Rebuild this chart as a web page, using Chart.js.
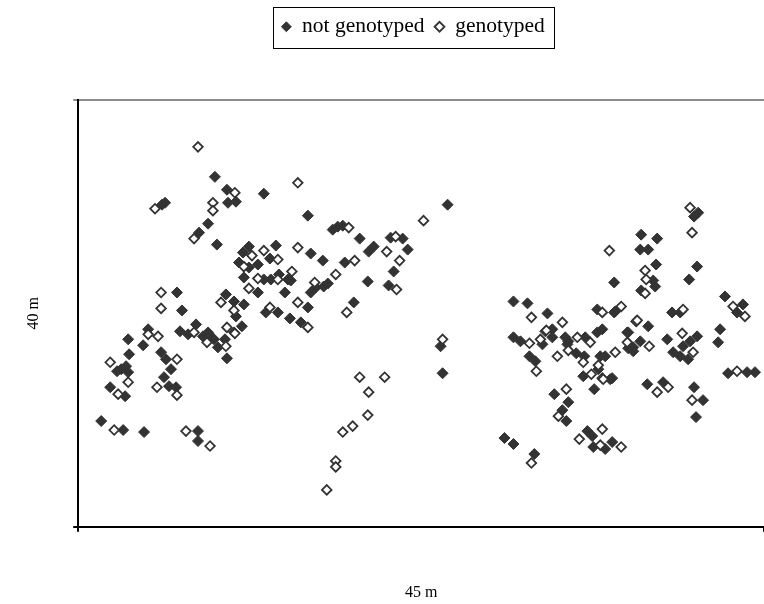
<!DOCTYPE html>
<html>
<head>
<meta charset="utf-8">
<script src="https://cdn.jsdelivr.net/npm/chart.js@4"></script>
<style>
  html, body { margin: 0; padding: 0; background: #fff; }
  #wrap { width: 764px; height: 604px; }
</style>
</head>
<body>
<div id="wrap"><canvas id="plot"></canvas></div>
<script>
// positions in metres: [x (0-45), y (0-40)]
const seriesNames = ['not genotyped', 'genotyped'];
const axisTitles = ['45 m', '40 m'];
const plotWidth = 45;
const plotHeight = 40;

const notGenotyped = [
  [8.97,32.80],[9.76,31.59],[9.83,30.37],[10.35,30.47],[12.18,31.22],[5.70,30.37],[5.50,30.19],[8.52,28.41],[7.93,27.57],[9.10,26.45],
  [15.07,29.16],[24.24,30.19],[16.70,27.85],[17.03,28.13],[17.36,28.22],[18.47,27.01],[19.39,26.26],[19.06,25.79],[20.50,27.10],[21.29,27.01],
  [21.62,25.98],[20.70,23.93],[20.37,22.62],[15.26,25.61],[16.05,24.95],[17.49,24.77],[19.00,22.99],[18.08,21.03],[13.95,23.08],[13.56,21.96],
  [15.07,20.56],[13.89,19.53],[14.61,19.16],[11.20,26.26],[12.97,26.36],[12.58,25.14],[10.81,25.70],[10.55,24.77],[11.79,24.58],[11.20,24.30],
  [10.87,23.37],[12.18,23.18],[13.76,23.18],[13.17,23.65],[12.64,23.18],[11.79,21.96],[15.59,22.43],[16.11,22.52],[15.26,21.96],[16.38,22.80],
  [12.31,20.09],[13.10,20.09],[9.69,21.78],[10.22,21.12],[10.87,20.84],[10.35,19.72],[10.74,18.79],[10.22,18.22],[8.52,18.22],[6.48,21.96],
  [6.81,20.28],[9.76,15.79],[9.63,17.57],[9.17,16.82],[6.68,18.32],[7.21,18.04],[7.73,18.97],[8.19,17.85],[8.58,18.04],[8.91,17.57],
  [3.28,17.57],[4.59,18.51],[4.26,17.01],[3.34,16.17],[2.82,14.77],[3.14,15.05],[3.28,14.49],[2.55,14.58],[2.10,13.08],[3.08,12.24],
  [5.44,16.36],[5.76,15.70],[6.09,14.77],[5.63,14.02],[5.96,13.18],[6.42,13.08],[1.51,9.91],[2.95,9.07],[4.32,8.88],[7.86,8.97],
  [7.86,8.04],[23.78,16.92],[23.91,14.39],
  [35.17,22.90],[36.94,22.15],[28.56,21.12],[29.48,20.94],[30.79,20.00],[34.06,20.37],[35.24,20.19],[28.56,17.76],[29.02,17.38],[30.46,17.10],
  [30.65,18.32],[31.11,18.51],[31.11,17.76],[31.96,17.76],[32.16,17.38],[33.27,17.76],[34.06,18.22],[34.39,18.51],[32.10,17.10],[32.68,16.26],
  [33.21,15.98],[34.26,15.98],[34.58,15.98],[29.61,15.98],[30.00,15.51],[36.03,18.22],[36.42,16.82],[33.14,14.11],[34.13,14.77],[35.04,13.93],
  [33.86,12.90],[31.24,12.43],[32.16,11.68],[31.77,10.93],[32.03,9.91],[27.97,8.32],[28.56,7.76],[29.93,6.82],[33.41,8.97],[33.73,8.50],
  [33.80,7.48],[35.04,7.94],[34.58,7.29],[40.68,29.44],[40.41,29.07],[36.94,27.38],[37.99,27.01],[36.88,25.98],[37.40,25.98],[37.92,24.58],
  [40.61,24.39],[40.09,23.18],[37.73,23.08],[37.86,22.52],[42.44,21.59],[43.62,20.84],[43.23,20.09],[35.17,20.09],[38.97,20.09],[39.50,20.09],
  [37.40,18.79],[36.09,18.22],[36.88,17.38],[36.09,16.73],[36.42,16.45],[38.65,17.57],[40.61,17.85],[40.15,17.38],[39.69,16.92],[39.04,16.36],
  [39.50,15.98],[40.02,15.70],[42.12,18.51],[41.99,17.29],[42.64,14.39],[43.89,14.49],[44.41,14.49],[37.34,13.36],[38.38,13.55],[40.41,13.08],
  [41.00,11.87],[40.54,10.28],[34.91,13.83]
];

const genotyped = [
  [7.86,35.61],[10.28,31.31],[5.04,29.81],[8.84,30.37],[8.84,29.63],[7.60,27.01],[14.41,32.24],[17.75,28.04],[20.24,25.79],[20.83,27.20],
  [21.09,24.95],[20.89,22.24],[22.66,28.69],[14.41,26.17],[18.14,24.95],[16.90,23.65],[17.62,20.09],[14.02,23.93],[14.41,21.03],[15.07,18.69],
  [12.18,25.89],[13.10,25.05],[11.40,25.42],[10.87,24.39],[11.79,23.27],[13.10,23.18],[11.20,22.34],[15.52,22.90],[12.58,20.56],[9.37,21.03],
  [10.22,20.28],[9.76,18.69],[23.91,17.57],[18.47,14.02],[20.11,14.02],[19.06,12.62],[19.00,10.47],[18.01,9.44],[17.36,8.88],[16.90,6.17],
  [16.90,5.61],[16.31,3.46],[5.44,21.96],[5.44,20.47],[10.28,18.13],[9.69,16.92],[7.60,18.22],[8.45,17.29],[4.59,18.04],[5.24,17.85],
  [2.10,15.42],[3.28,13.55],[2.62,12.43],[6.48,15.70],[5.17,13.08],[6.48,12.34],[2.36,9.07],[7.07,8.97],[8.65,7.57],
  [29.74,19.63],[34.39,20.09],[35.63,20.65],[31.77,19.16],[36.61,19.25],[29.61,17.20],[30.33,17.57],[30.72,18.41],[32.75,17.76],[33.60,17.29],
  [32.16,16.54],[31.44,15.98],[33.14,15.42],[35.24,16.36],[30.06,14.58],[36.03,17.29],[33.67,14.30],[34.13,15.14],[34.39,13.93],[32.03,12.90],
  [31.51,10.37],[32.88,8.22],[34.39,9.16],[34.26,7.66],[35.63,7.48],[40.15,29.91],[40.28,27.57],[34.85,25.89],[37.20,24.02],[37.27,23.18],
  [37.20,21.87],[42.97,20.65],[43.75,19.72],[39.69,20.37],[36.68,19.35],[37.47,16.92],[39.63,18.13],[40.35,16.36],[43.23,14.58],[37.99,12.62],
  [38.71,13.08],[40.28,11.87],[34.45,13.83],[29.74,5.98]
];

const toPoints = arr => arr.map(p => ({ x: p[0], y: p[1] }));
const serif = 'Liberation Serif, "Times New Roman", serif';

// legend: give it the tall band above the plot, nudge it left a bit, and box it
const legendBand = {
  id: 'legendBand',
  beforeInit(chart) {
    const fit = chart.legend.fit;
    chart.legend.fit = function () {
      fit.call(this);
      this.height = 94;
    };
  },
  afterLayout(chart) {
    chart.legend.left -= 8;
    chart.legend.right -= 8;
  },
  afterDraw(chart) {
    const boxes = chart.legend.legendHitBoxes;
    if (!boxes || !boxes.length) return;
    const first = boxes[0], last = boxes[boxes.length - 1];
    const cy = first.top + first.height / 2;
    const ctx = chart.ctx;
    ctx.save();
    ctx.strokeStyle = '#000';
    ctx.lineWidth = 1;
    const l = Math.round(first.left - 8) + 0.5;
    const r = Math.round(last.left + last.width + 9) + 0.5;
    ctx.strokeRect(l, Math.round(cy - 20) + 0.5, r - l, 41);
    ctx.restore();
  }
};

new Chart(document.getElementById('plot'), {
  type: 'scatter',
  data: {
    datasets: [{
      label: seriesNames[0],
      data: toPoints(notGenotyped),
      pointStyle: 'rectRot',
      pointRadius: 5.5,
      backgroundColor: '#333333',
      borderColor: '#333333',
      borderWidth: 1,
      order: 1
    }, {
      label: seriesNames[1],
      data: toPoints(genotyped),
      pointStyle: 'rectRot',
      pointRadius: 4.8,
      backgroundColor: '#ffffff',
      borderColor: '#333333',
      borderWidth: 1.8,
      order: 0
    }]
  },
  options: {
    responsive: true,
    maintainAspectRatio: false,
    animation: false,
    events: [],
    layout: { autoPadding: false, padding: { top: 6, left: 0, right: 0, bottom: 0 } },
    plugins: {
      tooltip: { enabled: false },
      legend: {
        position: 'top',
        fullSize: false,
        labels: {
          usePointStyle: true,
          boxWidth: 10,
          boxHeight: 7,
          padding: 10,
          color: '#000',
          font: { family: serif, size: 21.5 },
          sort: (a, b) => a.datasetIndex - b.datasetIndex
        }
      }
    },
    scales: {
      x: {
        type: 'linear',
        min: 0,
        max: plotWidth,
        ticks: { display: false, stepSize: plotWidth },
        grid: { drawOnChartArea: false, tickLength: 5, color: '#000', lineWidth: 2 },
        border: { color: '#000', width: 2 },
        title: {
          display: true,
          text: axisTitles[0],
          color: '#000',
          font: { family: serif, size: 16 },
          padding: { top: 51, bottom: 2 }
        }
      },
      y: {
        type: 'linear',
        min: 0,
        max: plotHeight,
        ticks: { display: false, stepSize: plotHeight },
        grid: {
          drawOnChartArea: true,
          tickLength: 5,
          lineWidth: 2,
          color: c => (c.tick && c.tick.value === plotHeight) ? '#8c8c8c' : '#000'
        },
        border: { color: '#000', width: 2 },
        title: {
          display: true,
          text: axisTitles[1],
          color: '#000',
          font: { family: serif, size: 16 },
          padding: { top: 24, bottom: 30 }
        }
      }
    }
  },
  plugins: [legendBand]
});
</script>
</body>
</html>
